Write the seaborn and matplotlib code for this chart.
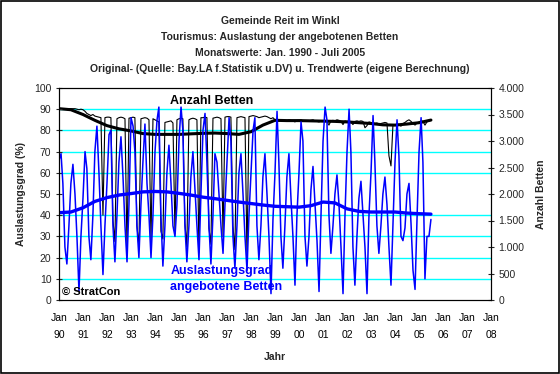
import numpy as np
import pandas as pd
import matplotlib
matplotlib.use("Agg")
import matplotlib.pyplot as plt
import matplotlib.dates as mdates
from matplotlib.patches import Rectangle
from matplotlib.ticker import FuncFormatter
import seaborn as sns

# Auslastungsgrad (%) monthly, Jan..Dec
ausl_1990 = [66, 69, 55, 25, 17, 35, 55, 64, 50, 30, 4, 30]
ausl_1991 = [48, 70, 62, 30, 19, 40, 70, 82, 60, 35, 12, 35]
ausl_1992 = [55, 78, 80, 35, 18, 40, 65, 77, 58, 35, 18, 45]
ausl_1993 = [86, 82, 70, 35, 20, 45, 65, 83, 55, 40, 20, 40]
ausl_1994 = [70, 85, 91, 40, 16, 35, 60, 73, 55, 35, 30, 45]
ausl_1995 = [75, 91, 80, 35, 18, 35, 58, 70, 52, 35, 19, 50]
ausl_1996 = [80, 88, 65, 35, 17, 40, 69, 65, 50, 35, 22, 45]
ausl_1997 = [65, 86, 75, 30, 15, 35, 60, 69, 50, 30, 14, 40]
ausl_1998 = [60, 80, 86, 35, 19, 35, 58, 69, 50, 30, 3, 38]
ausl_1999 = [60, 89, 65, 30, 15, 35, 58, 69, 48, 30, 7, 40]
ausl_2000 = [60, 84, 75, 30, 16, 30, 52, 63, 45, 28, 4, 40]
ausl_2001 = [75, 91, 85, 40, 22, 35, 50, 59, 45, 25, 3, 40]
ausl_2002 = [70, 90, 70, 25, 7, 30, 48, 56, 40, 25, 3, 40]
ausl_2003 = [60, 87, 65, 35, 22, 35, 50, 58, 45, 25, 7, 35]
ausl_2004 = [65, 85, 68, 30, 28, 34, 50, 55, 36, 14, 5, 38]
ausl_2005 = [70, 86, 65, 10, 30, 30, 38]

# Anzahl angebotene Betten monthly
betten_1990 = [3610, 3610, 3610, 3610, 3610, 3610, 3610, 3610, 3610, 3600, 3590, 3600]
betten_1991 = [3590, 3560, 3520, 3500, 3480, 3500, 3470, 3460, 3450, 3440, 1600, 3440]
betten_1992 = [3450, 3450, 3440, 1500, 1100, 3420, 3440, 3450, 3440, 3420, 950, 3430]
betten_1993 = [3440, 3450, 3440, 1400, 1000, 3420, 3430, 3440, 3430, 3400, 1100, 3420]
betten_1994 = [3400, 3380, 3360, 1300, 1150, 3350, 3360, 3370, 3380, 3340, 1250, 3400]
betten_1995 = [3420, 3430, 3420, 1450, 1000, 3400, 3420, 3430, 3420, 3400, 900, 3440]
betten_1996 = [3440, 3450, 3440, 1350, 1050, 3430, 3440, 3450, 3440, 3420, 1200, 3450]
betten_1997 = [3460, 3460, 3450, 1400, 950, 3440, 3450, 3460, 3450, 3440, 800, 3460]
betten_1998 = [3470, 3480, 3470, 3460, 3440, 3450, 3460, 3470, 3460, 3440, 3420, 3440]
betten_1999 = [3400, 3390, 3380, 3390, 3370, 3390, 3380, 3400, 3390, 3380, 3360, 3390]
betten_2000 = [3390, 3400, 3380, 3380, 3370, 3380, 3390, 3400, 3380, 3370, 3360, 3380]
betten_2001 = [3380, 3390, 3370, 3300, 3380, 3390, 3380, 3400, 3390, 3370, 3310, 3380]
betten_2002 = [3370, 3380, 3360, 3310, 3370, 3380, 3370, 3380, 3370, 3250, 3290, 3360]
betten_2003 = [3350, 3340, 3330, 3340, 3320, 3330, 3340, 3350, 3340, 2720, 2530, 3310]
betten_2004 = [3300, 3320, 3310, 3280, 3330, 3350, 3380, 3400, 3370, 3330, 3300, 3340]
betten_2005 = [3360, 3380, 3370, 3300, 3360, 3380, 3390]

# trend values, every 6 months from Jan 1990
trend_ausl = [41.2, 41.5, 43.5, 46.5, 48.3, 49.5, 50.2, 51.0, 51.2, 51.0, 50.3, 49.5,
              48.5, 47.8, 47.0, 46.2, 45.5, 44.8, 44.2, 44.0, 43.8, 44.5, 46.2, 45.8,
              43.0, 41.8, 41.5, 41.5, 41.5, 41.0, 40.7, 40.5]
trend_betten = [3610, 3590, 3500, 3390, 3290, 3230, 3190, 3140, 3125, 3125, 3125, 3135,
                3145, 3150, 3140, 3125, 3175, 3300, 3390, 3385, 3385, 3380, 3375, 3370,
                3360, 3345, 3330, 3305, 3300, 3320, 3345, 3395]

years = list(range(1990, 2009))
xtick_labels = ["Jan\n%02d" % (y % 100) for y in years]

ausl = sum([ausl_1990, ausl_1991, ausl_1992, ausl_1993, ausl_1994, ausl_1995, ausl_1996,
            ausl_1997, ausl_1998, ausl_1999, ausl_2000, ausl_2001, ausl_2002, ausl_2003,
            ausl_2004, ausl_2005], [])
betten = sum([betten_1990, betten_1991, betten_1992, betten_1993, betten_1994, betten_1995,
              betten_1996, betten_1997, betten_1998, betten_1999, betten_2000, betten_2001,
              betten_2002, betten_2003, betten_2004, betten_2005], [])

monthly = pd.DataFrame({
    "Datum": pd.date_range("1990-01-01", periods=len(ausl), freq="MS"),
    "Auslastung": ausl,
    "Betten": betten,
})
trend = pd.DataFrame({
    "Datum": pd.date_range("1990-01-01", periods=len(trend_ausl), freq="6MS"),
    "Auslastung": trend_ausl,
    "Betten": trend_betten,
})

sns.set_style("white")
plt.rcParams["font.family"] = ["Liberation Sans", "DejaVu Sans"]

fig = plt.figure(figsize=(5.6, 3.74), dpi=100)
ax = fig.add_axes([59 / 560, 1 - 300 / 374, 432 / 560, 212 / 374])
ax2 = ax.twinx()
# beds axis below, percent axis on top
ax2.set_zorder(1)
ax.set_zorder(2)
ax.patch.set_visible(False)
ax2.set_facecolor("#C0C0C0")

sns.lineplot(data=monthly, x="Datum", y="Betten", ax=ax2, color="black", lw=0.8)
sns.lineplot(data=trend, x="Datum", y="Betten", ax=ax2, color="black", lw=2.2)
sns.lineplot(data=monthly, x="Datum", y="Auslastung", ax=ax, color="#0000FF", lw=1.1)
sns.lineplot(data=trend, x="Datum", y="Auslastung", ax=ax, color="#0000FF", lw=2.4)

ax.set_xlim(pd.Timestamp("1990-01-01"), pd.Timestamp("2008-01-01"))
ax.set_ylim(0, 100)
ax2.set_ylim(0, 4000)

tick_dates = [pd.Timestamp("%d-01-01" % y) for y in years]
ax.set_xticks(tick_dates)
ax.set_xticklabels(xtick_labels, linespacing=1.85)
ax.xaxis.set_minor_locator(mdates.MonthLocator())
ax.set_yticks(range(0, 101, 10))
ax2.set_yticks(range(0, 4001, 500))
ax2.yaxis.set_major_formatter(FuncFormatter(lambda v, p: f"{int(v):,}".replace(",", ".")))

# grid lines drawn on the lower axes so they sit behind all series
ax2.set_yticks(np.arange(0, 4001, 400), minor=True)
ax2.tick_params(axis="y", which="minor", length=0)
ax2.grid(True, axis="y", which="minor", color="#00FFFF", lw=1)
ax2.grid(True, axis="x", which="major", color="#00FFFF", lw=1)
ax.grid(False)

ax.tick_params(axis="x", which="major", direction="inout", length=5, width=0.8,
               labelsize=7.5, pad=7, colors="black")
ax.tick_params(axis="x", which="minor", direction="inout", length=2.5, width=0.6)
ax.tick_params(axis="y", which="major", direction="inout", length=5, width=0.8,
               labelsize=7.5, pad=3, left=True)
ax2.tick_params(axis="y", which="major", direction="inout", length=5, width=0.8,
                labelsize=7.5, pad=3, right=True)

for a in (ax, ax2):
    for s in a.spines.values():
        s.set_color("black")
        s.set_linewidth(0.8)

ax.set_xlabel("Jahr", fontsize=7.5, fontweight="bold", labelpad=9)
ax.set_ylabel("Auslastungsgrad (%)", fontsize=7.5, fontweight="bold", labelpad=6)
ax2.set_ylabel("Anzahl Betten", fontsize=7.5, fontweight="bold", labelpad=8)

ax.text(0.258, 0.94, "Anzahl Betten", transform=ax.transAxes, fontsize=9,
        fontweight="bold", color="black", va="center")
ax.text(0.258, 0.135, "Auslastungsgrad", transform=ax.transAxes, fontsize=9,
        fontweight="bold", color="#0000FF", va="center")
ax.text(0.258, 0.062, "angebotene Betten", transform=ax.transAxes, fontsize=9,
        fontweight="bold", color="#0000FF", va="center")
ax.text(0.006, 0.038, "© StratCon", transform=ax.transAxes, fontsize=8,
        fontweight="bold", color="black", va="center")

title_lines = ["Gemeinde Reit im Winkl",
               "Tourismus: Auslastung der angebotenen Betten",
               "Monatswerte: Jan. 1990 - Juli 2005",
               "Original- (Quelle: Bay.LA f.Statistik u.DV) u. Trendwerte (eigene Berechnung)"]
for i, line in enumerate(title_lines):
    fig.text(0.5, 1 - (21 + 16 * i) / 374, line, ha="center", va="center",
             fontsize=7.5, fontweight="bold")

fig.patches.append(Rectangle((0.001, 0.002), 0.997, 0.996, transform=fig.transFigure,
                             fill=False, edgecolor="black", lw=1.2))

fig.savefig("out.png", dpi=100)
